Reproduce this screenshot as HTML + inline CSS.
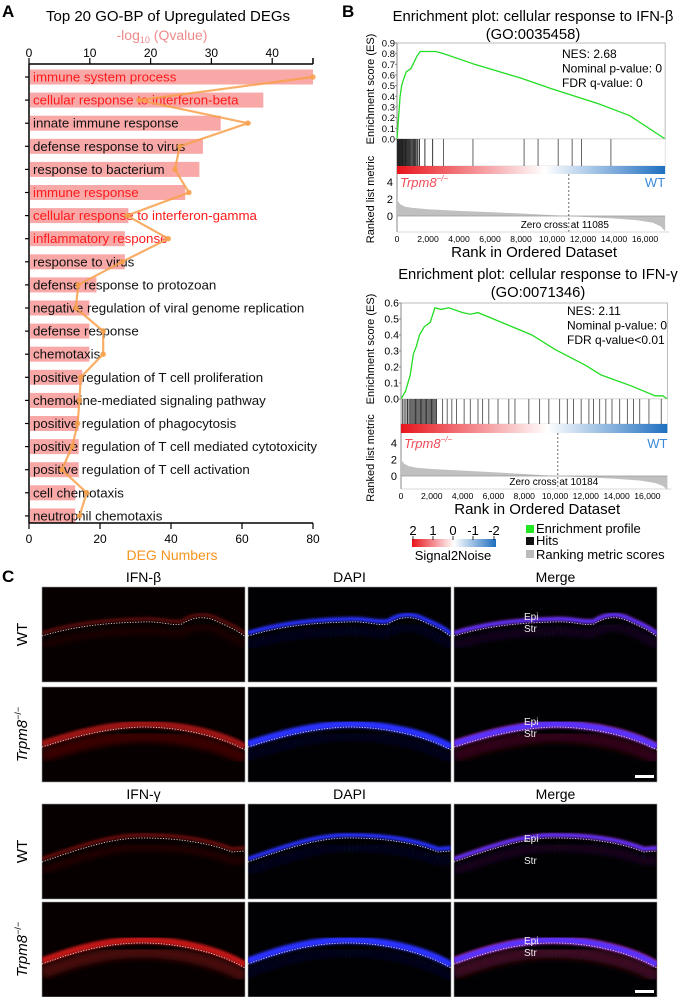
<!DOCTYPE html>
<html><head><meta charset="utf-8">
<style>
html,body{margin:0;padding:0;background:#fff;}
svg{display:block;font-family:"Liberation Sans",Arial,sans-serif;}
</style></head>
<body>
<svg id="fig" width="682" height="997" viewBox="0 0 682 997" xmlns="http://www.w3.org/2000/svg">
<defs>
<linearGradient id="rb" x1="0" x2="1" y1="0" y2="0">
<stop offset="0" stop-color="#e8141c"/><stop offset="0.55" stop-color="#ffffff"/><stop offset="1" stop-color="#1f6fc0"/>
</linearGradient>
<linearGradient id="rb2" x1="0" x2="1" y1="0" y2="0">
<stop offset="0" stop-color="#e8141c"/><stop offset="0.5" stop-color="#ffffff"/><stop offset="1" stop-color="#1f6fc0"/>
</linearGradient>
<filter id="blur"><feGaussianBlur stdDeviation="1.2"/></filter>
<filter id="blur2"><feGaussianBlur stdDeviation="3"/></filter>
</defs>
<g font-weight="bold" font-size="17">
<text x="2" y="17">A</text>
<text x="342" y="17">B</text>
<text x="2" y="582">C</text>
</g>
<g id="panelA"></g>
<g id="panelB1"></g>
<g id="panelB2"></g>
<g id="legendB">
<text x="413" y="535" font-size="13" text-anchor="middle">2</text>
<text x="433" y="535" font-size="13" text-anchor="middle">1</text>
<text x="453" y="535" font-size="13" text-anchor="middle">0</text>
<text x="473" y="535" font-size="13" text-anchor="middle">-1</text>
<text x="494" y="535" font-size="13" text-anchor="middle">-2</text>
<rect x="412" y="539" width="84" height="8" fill="url(#rb2)"/>
<g stroke="#000" stroke-width="0.8"><line x1="413" y1="536" x2="413" y2="540"/><line x1="433" y1="536" x2="433" y2="540"/><line x1="453" y1="536" x2="453" y2="540"/><line x1="473" y1="536" x2="473" y2="540"/><line x1="494" y1="536" x2="494" y2="540"/></g>
<text x="453" y="560" font-size="13" text-anchor="middle">Signal2Noise</text>
<rect x="526" y="525" width="8" height="8" fill="#22e622"/>
<text x="536" y="533" font-size="13">Enrichment profile</text>
<rect x="526" y="537" width="8" height="8" fill="#111"/>
<text x="536" y="545" font-size="13">Hits</text>
<rect x="526" y="550" width="8" height="8" fill="#bbb"/>
<text x="536" y="559" font-size="13">Ranking metric scores</text>
</g>
<g id="panelC"></g>
</svg>
<script>
// ---------- Panel A data ----------
const goTerms = ["immune system process","cellular response to interferon-beta","innate immune response","defense response to virus","response to bacterium","immune response","cellular response to interferon-gamma","inflammatory response","response to virus","defense response to protozoan","negative regulation of viral genome replication","defense response","chemotaxis","positive regulation of T cell proliferation","chemokine-mediated signaling pathway","positive regulation of phagocytosis","positive regulation of T cell mediated cytotoxicity","positive regulation of T cell activation","cell chemotaxis","neutrophil chemotaxis"];
const degCounts = [80,66,54,49,48,44,28,27,27,19,17,17,17,15,14,14,14,14,13,13];
const qValues = [46.7,18.1,36,24.8,24,26.3,16.1,22.9,15.3,8.1,7.7,12.2,12.2,8.5,8.3,8,7.1,5.4,9.5,8.3];
const redTerms = [0,1,5,6,7];
const degTicks = [0,20,40,60,80];
const qTicks = [0,10,20,30,40];

// ---------- Panel B data ----------
const es1Ranks = [0,100,200,300,400,600,900,1100,1300,1500,2000,2500,3000,5000,8000,10000,13000,15000,17300];
const es1Vals  = [0,0.2,0.4,0.5,0.55,0.63,0.66,0.72,0.78,0.82,0.82,0.82,0.80,0.70,0.57,0.47,0.33,0.22,0.0];
const hits1 = [20,60,100,140,180,220,260,300,340,380,420,470,520,570,620,680,740,800,860,920,990,1060,1130,1200,1280,1350,1450,1800,2300,3000,4900,8200,9100,10400,11300,11900,13800];
const es2Ranks = [0,300,600,800,1000,1200,1500,1900,2200,2600,3100,4000,4500,5000,7000,8500,10000,12000,13000,15000,16500,17000,17300];
const es2Vals  = [0,0.05,0.15,0.28,0.33,0.40,0.45,0.48,0.57,0.56,0.57,0.54,0.53,0.54,0.46,0.40,0.31,0.21,0.15,0.08,0.02,0.02,0];
const hits2 = [80,200,320,420,520,600,700,780,860,940,1020,1100,1180,1260,1340,1420,1500,1580,1660,1740,1820,1900,1980,2060,2140,2220,2300,2700,3000,3300,3600,4100,4500,5000,5300,5700,6300,7000,7400,8300,9000,9600,10300,10800,11200,11700,12200,12500,12900,13300,13700,14200,14700,15100,15500,16100,16900];
const metricRanks = [0,200,500,1000,2000,4000,6000,8000,10000,11000,12000,14000,15500,16500,17000,17300];
const metric1Vals = [1.9,1.4,1.1,0.95,0.8,0.6,0.45,0.3,0.1,0,-0.1,-0.3,-0.5,-0.8,-1.2,-1.8];
const metric2Vals = [2.0,1.5,1.2,1.0,0.85,0.65,0.45,0.25,0.02,-0.08,-0.15,-0.35,-0.55,-0.85,-1.2,-1.7];
const rankTicks = [0,2000,4000,6000,8000,10000,12000,14000,16000];
const zeroCross1 = 11085, zeroCross2 = 10184;

const NS = "http://www.w3.org/2000/svg";
function mk(parent, tag, attrs, text){
  const e = document.createElementNS(NS, tag);
  for (const k in attrs) e.setAttribute(k, attrs[k]);
  if (text !== undefined) e.textContent = text;
  parent.appendChild(e);
  return e;
}

// ---------- Panel A ----------
(function(){
  const g = document.getElementById('panelA');
  const x0 = 29, xDeg = v => x0 + v * (284/80), xQ = v => x0 + v * 6.08;
  const rowY = i => 77 + i * 23.1;
  let t = mk(g,'text',{x:168,y:21,'font-size':15,'text-anchor':'middle'},'Top 20 GO-BP of Upregulated DEGs');
  
  
  t = mk(g,'text',{x:162,y:40,'font-size':14,'text-anchor':'middle',fill:'#f08a8a'});
  
  
  t.innerHTML = '-log<tspan font-size="9" dy="3">10</tspan><tspan dy="-3"> (Qvalue)</tspan>';
  mk(g,'line',{x1:x0,y1:64,x2:313,y2:64,stroke:'#000','stroke-width':1.5});
  mk(g,'line',{x1:313,y1:58,x2:313,y2:64,stroke:'#000','stroke-width':1.5});
  qTicks.forEach(v=>{
    mk(g,'line',{x1:xQ(v),y1:58,x2:xQ(v),y2:64,stroke:'#000','stroke-width':1.2});
    const tl = mk(g,'text',{x:xQ(v),y:57,'font-size':12,'text-anchor':'middle'},String(v));
    
    
  });
  degCounts.forEach((v,i)=>{
    const r = mk(g,'rect',{x:x0+1,y:rowY(i)-7.5,width:xDeg(v)-x0-1,height:15,fill:'#f9a8a8'});
    
    
  });
  mk(g,'line',{x1:x0,y1:64,x2:x0,y2:523,stroke:'#000','stroke-width':1.5});
  goTerms.forEach((s,i)=>{
    mk(g,'line',{x1:x0-4,y1:rowY(i),x2:x0,y2:rowY(i),stroke:'#000','stroke-width':1.2});
    const tl = mk(g,'text',{x:33,y:rowY(i)+4.5,'font-size':13.3,fill:redTerms.includes(i)?'#ff1a1a':'#111'},s);
    
    
  });
  const pts = qValues.map((v,i)=>xQ(v)+','+rowY(i)).join(' ');
  const pl = mk(g,'polyline',{points:pts,fill:'none',stroke:'#f7a04b','stroke-width':2.2,'stroke-opacity':0.85});
  
  
  qValues.forEach((v,i)=>{
    const c = mk(g,'circle',{cx:xQ(v),cy:rowY(i),r:2.8,fill:'#f7a04b','fill-opacity':0.85});
    
    
  });
  mk(g,'line',{x1:x0,y1:523,x2:313,y2:523,stroke:'#000','stroke-width':1.5});
  degTicks.forEach(v=>{
    mk(g,'line',{x1:xDeg(v),y1:523,x2:xDeg(v),y2:529,stroke:'#000','stroke-width':1.2});
    const tl = mk(g,'text',{x:xDeg(v),y:543,'font-size':12,'text-anchor':'middle'},String(v));
    
    
  });
  t = mk(g,'text',{x:172,y:560,'font-size':14,'text-anchor':'middle',fill:'#f7931e'},'DEG Numbers');
  
  
})();

// ---------- Panel B ----------
function gsea(gid, o){
  const g = document.getElementById(gid);
  const X = r => o.x0 + r * o.pxPer2000 / 2000;
  const Y = v => o.y0 - v * o.pxPerUnit;
  const M = v => o.m0 - v * o.mPx;
  const right = X(17300);
  let t = mk(g,'text',{x:o.tx,y:o.ty,'font-size':14.8,'text-anchor':'middle'},o.title1);
  
  
  t = mk(g,'text',{x:o.tx,y:o.ty+18,'font-size':14.8,'text-anchor':'middle'},o.title2);
  
  
  mk(g,'rect',{x:o.x0,y:o.yTop,width:right-o.x0,height:o.y0-o.yTop,fill:'none',stroke:'#bbb','stroke-width':1});
  mk(g,'line',{x1:o.x0,y1:o.yTop,x2:o.x0,y2:o.mBot,stroke:'#888','stroke-width':1});
  o.esTicks.forEach(v=>{
    mk(g,'line',{x1:o.x0-2,y1:Y(v),x2:o.x0,y2:Y(v),stroke:'#888'});
    const tl = mk(g,'text',{x:o.x0-2,y:Y(v)+3.5,'font-size':o.esFont,'text-anchor':'end'},v.toFixed(1));
    
    
  });
  const es = mk(g,'polyline',{points:o.ranks.map((r,i)=>X(r)+','+Y(o.vals[i])).join(' '),fill:'none',stroke:'#22dd22','stroke-width':1.3});
  
  
  mk(g,'rect',{x:o.x0,y:o.y0,width:right-o.x0,height:o.hBot-o.y0,fill:'#fff',stroke:'#ccc','stroke-width':0.6});
  o.hits.forEach((r,i)=>{
    const l = mk(g,'line',{x1:X(r),y1:o.y0,x2:X(r),y2:o.hBot,stroke:r<2400?'#222':'#555','stroke-width':0.9});
    
    
  });
  const cb = mk(g,'rect',{x:o.x0,y:o.hBot,width:right-o.x0,height:o.cbH,fill:'url(#rb)'});
  
  
  t = mk(g,'text',{x:o.x0+3,y:M(4)+5,'font-size':13,'font-style':'italic',fill:'#f04a56'});
  t.innerHTML = 'Trpm8<tspan font-size="8" dy="-6">−/−</tspan>';
  
  
  t = mk(g,'text',{x:right,y:M(4)+5,'font-size':13,'text-anchor':'end',fill:'#3a8ad8'},'WT');
  
  
  const area = 'M'+X(0)+','+M(0)+' '+o.mvals.map((v,i)=>'L'+X(metricRanks[i])+','+M(v)).join(' ')+' L'+X(17300)+','+M(0)+' Z';
  const ar = mk(g,'path',{d:area,fill:'#c0c0c0'});
  
  
  mk(g,'line',{x1:o.x0,y1:M(0),x2:right,y2:M(0),stroke:'#999','stroke-width':0.8});
  mk(g,'line',{x1:X(o.zc),y1:o.hBot+o.cbH,x2:X(o.zc),y2:o.mBot,stroke:'#444','stroke-width':0.8,'stroke-dasharray':'2,2'});
  t = mk(g,'text',{x:X(o.zc)-4,y:o.mBot-4,'font-size':10,'text-anchor':'middle'},'Zero cross at '+o.zc);
  
  
  [0,2,4].forEach(v=>{
    mk(g,'text',{x:o.x0-4,y:M(v)+4,'font-size':11,'text-anchor':'end'},String(v));
  });
  mk(g,'line',{x1:o.x0,y1:o.mBot,x2:right+4,y2:o.mBot,stroke:'#ccc','stroke-width':0.8});
  rankTicks.forEach(r=>{
    const tl = mk(g,'text',{x:X(r),y:o.mBot+10,'font-size':8.6,'text-anchor':'middle'},r===0?'0':r.toLocaleString('en-US'));
    
    
  });
  t = mk(g,'text',{x:(o.x0+right)/2+3,y:o.mBot+25,'font-size':15,'text-anchor':'middle'},'Rank in Ordered Dataset');
  
  
  t = mk(g,'text',{x:0,y:0,'font-size':11,'text-anchor':'middle',transform:'translate(374,'+((o.yTop+o.y0)/2-2)+') rotate(-90)'},'Enrichment score (ES)');
  
  
  t = mk(g,'text',{x:0,y:0,'font-size':11,'text-anchor':'middle',transform:'translate(374,'+((o.y0+o.mBot)/2+14)+') rotate(-90)'},'Ranked list metric');
  
  
  o.stats.forEach((s,i)=>{
    const st = mk(g,'text',{x:o.sx,y:o.sy+i*14.5,'font-size':12},s);
    
    
  });
}
gsea('panelB1',{x0:397,pxPer2000:31,y0:139,pxPerUnit:106.7,yTop:43,hBot:166,cbH:8,m0:216,mPx:8.5,mBot:232,
  ranks:es1Ranks,vals:es1Vals,hits:hits1,mvals:metric1Vals,zc:zeroCross1,esTicks:[0,0.1,0.2,0.3,0.4,0.5,0.6,0.7,0.8,0.9],esFont:9.5,
  tx:533,ty:21,title1:'Enrichment plot: cellular response to IFN-β',title2:'(GO:0035458)',
  sx:562,sy:58,stats:['NES: 2.68','Nominal p-value: 0','FDR q-value: 0']});
gsea('panelB2',{x0:401,pxPer2000:30.8,y0:399,pxPerUnit:160,yTop:303,hBot:424,cbH:9,m0:476,mPx:8.25,mBot:489,
  ranks:es2Ranks,vals:es2Vals,hits:hits2,mvals:metric2Vals,zc:zeroCross2,esTicks:[0,0.1,0.2,0.3,0.4,0.5,0.6],esFont:10.5,
  tx:538,ty:279,title1:'Enrichment plot: cellular response to IFN-γ',title2:'(GO:0071346)',
  sx:567,sy:315,stats:['NES: 2.11','Nominal p-value: 0','FDR q-value<0.01']});

// ---------- Panel C ----------
(function(){
  const g = document.getElementById('panelC');
  const cols = [42,248,454], W = 203;
  const rows = [587,687,804,902], H = 95;
  const curves = [
    "M0,49 C30,40 60,36 100,35 C120,34 128,39 140,37 C152,29 165,29 176,35 C190,41 198,45 203,50",
    "M0,60 C40,47 70,41 100,40 C140,40 180,50 203,63",
    "M0,58 C40,44 70,34 100,34 C140,34 170,40 190,48 L203,47",
    "M0,62 C40,47 70,41 100,41 C140,41 180,52 203,66"
  ];
  const redA = [0.4,0.8,0.5,1.0];
  const rowNames = ['wt-ifn-beta','trpm8-ifn-beta','wt-ifn-gamma','trpm8-ifn-gamma'];
  const colNames = ['ifn','dapi','merge'];
  rows.forEach((ry,ri)=>{
    cols.forEach((cx,ci)=>{
      const p = mk(g,'g',{transform:'translate('+cx+','+ry+')'});
      
      
      mk(p,'rect',{x:0,y:0,width:W,height:H,fill:ci===0?'#060000':'#010104',stroke:'#999','stroke-width':0.6});
      const cp = 'clip'+ri+ci;
      const cl = mk(p,'clipPath',{id:cp}); mk(cl,'rect',{x:0,y:0,width:W,height:H});
      const inner = mk(p,'g',{'clip-path':'url(#'+cp+')'});
      const d = curves[ri];
      if (ci===0 || ci===2){
        const a = redA[ri];
        mk(inner,'path',{d:d,transform:'translate(0,-3)',fill:'none',stroke:'#c01818','stroke-width':ri%2?7:4,'stroke-opacity':a,filter:'url(#blur)'});
        mk(inner,'path',{d:d,transform:'translate(0,9)',fill:'none',stroke:'#8a1010','stroke-width':ri%2?12:6,'stroke-opacity':a*0.5,filter:'url(#blur2)'});
      }
      if (ci>=1){
        mk(inner,'path',{d:d,transform:'translate(0,-3)',fill:'none',stroke:ci===2?'#5a30ff':'#2a30ff','stroke-width':ri%2?7:4,filter:'url(#blur)'});
        mk(inner,'path',{d:d,transform:'translate(0,9)',fill:'none',stroke:'#1a20c0','stroke-width':10,'stroke-opacity':0.45,'stroke-dasharray':'1,3',filter:'url(#blur)'});
      }
      mk(inner,'path',{d:d,fill:'none',stroke:'#fff','stroke-width':0.8,'stroke-dasharray':'1.2,1.5','stroke-opacity':0.9});
      if (ci===2){
        mk(p,'text',{x:70,y:ri===2?38:(ri===0?33:(ri===1?38:42)),'font-size':10,fill:'#eee'},'Epi');
        mk(p,'text',{x:70,y:ri===2?60:(ri===0?45:(ri===1?50:54)),'font-size':10,fill:'#eee'},'Str');
        if (ri===1 || ri===3){
          const sb = mk(p,'rect',{x:181,y:88,width:19,height:3,fill:'#fff'});
          
          
        }
      }
    });
  });
  const heads = [['IFN-β','DAPI','Merge'],['IFN-γ','DAPI','Merge']];
  [582,799].forEach((hy,hi)=>{
    heads[hi].forEach((s,ci)=>{
      const t = mk(g,'text',{x:cols[ci]+W/2,y:hy,'font-size':14,'text-anchor':'middle'},s);
      
      
    });
  });
  rows.forEach((ry,ri)=>{
    const t = mk(g,'text',{x:0,y:0,'font-size':15,'text-anchor':'middle',transform:'translate(27,'+(ry+H/2)+') rotate(-90)'});
    if (ri%2===0) t.textContent='WT';
    else t.innerHTML='<tspan font-style="italic">Trpm8</tspan><tspan font-size="9" dy="-6">−/−</tspan>';
    
    
  });
})();
</script>
</body></html>
